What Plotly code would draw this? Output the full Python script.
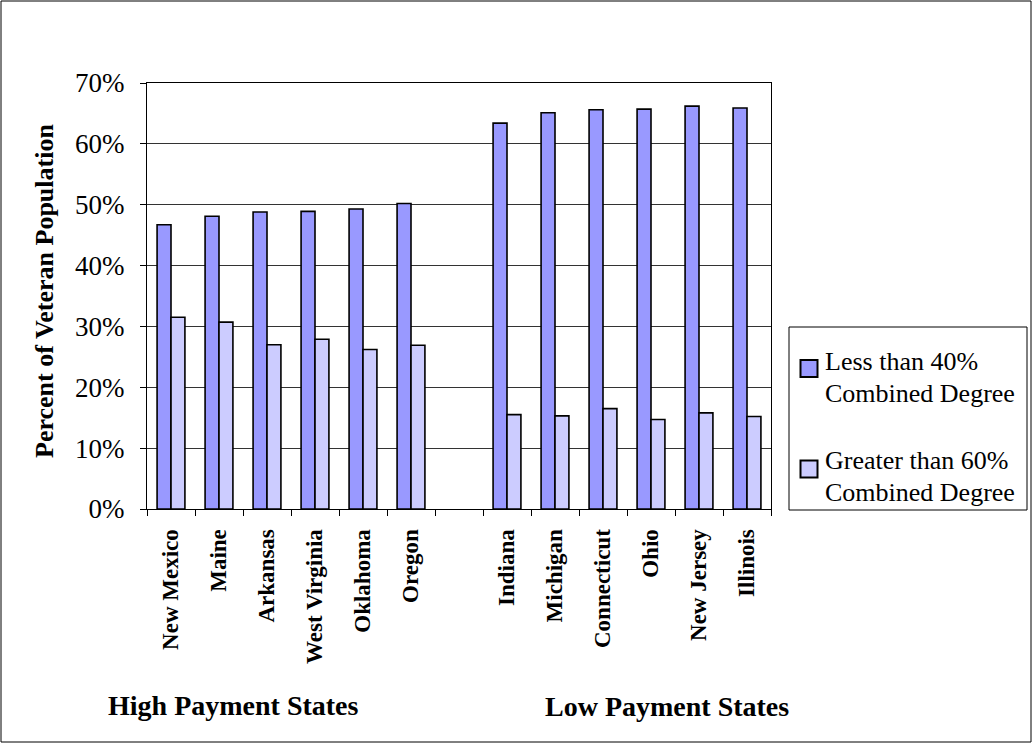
import plotly.graph_objects as go

states = ["New Mexico", "Maine", "Arkansas", "West Virginia", "Oklahoma", "Oregon", " ",
          "Indiana", "Michigan", "Connecticut", "Ohio", "New Jersey", "Illinois"]
less_than_40 = [46.7, 48.1, 48.8, 48.9, 49.3, 50.2, None, 63.4, 65.1, 65.6, 65.7, 66.2, 65.9]
greater_than_60 = [31.5, 30.7, 27.0, 27.9, 26.2, 26.9, None, 15.5, 15.3, 16.5, 14.7, 15.8, 15.2]
series_names = [["Less than 40%", "Combined Degree"], ["Greater than 60%", "Combined Degree"]]
series_colors = ["#9999FF", "#CCCCFF"]
group_labels = ["High Payment States", "Low Payment States"]
y_ticks = [0, 10, 20, 30, 40, 50, 60, 70]
y_tick_labels = [f"{v}%" for v in y_ticks]

W, H = 1033, 744
L, R, T, B = 147, 262, 83, 235
pw, ph = W - L - R, H - T - B

def px(x):
    return (x - L) / pw

def py(y):
    return (H - B - y) / ph

serif = "Liberation Serif"

fig = go.Figure()
for vals, names, col in zip([less_than_40, greater_than_60], series_names, series_colors):
    fig.add_trace(go.Bar(x=states, y=vals, name=" ".join(names),
                         marker=dict(color=col, line=dict(color="black", width=1.6))))

fig.update_layout(
    width=W, height=H,
    margin=dict(l=L, r=R, t=T, b=B, autoexpand=False),
    paper_bgcolor="white", plot_bgcolor="white",
    barmode="group", bargap=0.42, bargroupgap=0,
    font=dict(family=serif, color="black"),
    showlegend=False,
)
fig.update_xaxes(type="category", tickson="boundaries", ticks="outside", ticklen=6,
                 tickcolor="black", showline=True, linecolor="black", linewidth=1,
                 mirror=True, tickangle=-90, ticklabelstandoff=10,
                 tickfont=dict(size=23, family=serif, weight="bold"),
                 showgrid=False)
fig.update_yaxes(range=[0, 70], tickvals=y_ticks, ticktext=y_tick_labels,
                 ticks="outside", ticklen=6, tickcolor="black", ticklabelstandoff=10,
                 showline=True, linecolor="black", linewidth=1, mirror=True,
                 showgrid=True, gridcolor="#333333", gridwidth=1,
                 tickfont=dict(size=27, family=serif), zeroline=False)

fig.add_annotation(text="<b>Percent of Veteran Population</b>", textangle=-90,
                   xref="paper", yref="paper", x=px(44), y=py(291),
                   xanchor="center", yanchor="middle", showarrow=False,
                   font=dict(size=26, family=serif))
for label, cx, cy in zip(group_labels, [233, 667], [705, 706]):
    fig.add_annotation(text=f"<b>{label}</b>", xref="paper", yref="paper",
                       x=px(cx), y=py(cy), xanchor="center", yanchor="middle",
                       showarrow=False, font=dict(size=28, family=serif))

# legend (drawn manually so it keeps the serif font and layout)
fig.add_shape(type="rect", xref="paper", yref="paper",
              x0=px(789), x1=px(1027), y0=py(510), y1=py(327),
              line=dict(color="black", width=1), fillcolor="white")
for i, (names, col) in enumerate(zip(series_names, series_colors)):
    sy = 368.5 + i * 100.5
    fig.add_shape(type="rect", xref="paper", yref="paper",
                  x0=px(800.5), x1=px(817.5), y0=py(sy + 8.5), y1=py(sy - 8.5),
                  line=dict(color="black", width=2), fillcolor=col)
    for j, line in enumerate(names):
        fig.add_annotation(text=line, xref="paper", yref="paper",
                           x=px(823), y=py(361 + i * 99.5 + j * 32),
                           xanchor="left", yanchor="middle", showarrow=False,
                           font=dict(size=26, family=serif))

fig.add_shape(type="rect", xref="paper", yref="paper",
              x0=px(1), x1=px(W - 2), y0=py(H - 2), y1=py(1),
              line=dict(color="black", width=1), fillcolor="rgba(0,0,0,0)")

fig.write_html("out.html")
